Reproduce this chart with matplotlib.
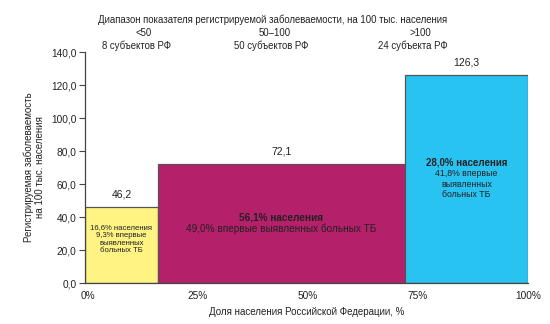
import matplotlib
matplotlib.use("Agg")
import matplotlib.pyplot as plt
import matplotlib.transforms as mtransforms

plt.rcParams['font.family'] = ['Liberation Sans', 'DejaVu Sans']

shares = [16.6, 56.1, 28.0]
values = [46.2, 72.1, 126.3]
value_labels = ["46,2", "72,1", "126,3"]
colors = ["#FFF383", "#B5206B", "#29C3F2"]
ranges = ["<50", "50\u2013100", ">100"]
subjects = ["8 субъектов РФ", "50 субъектов РФ", "24 субъекта РФ"]
yticks = [0, 20, 40, 60, 80, 100, 120, 140]
ytick_labels = ["0,0", "20,0", "40,0", "60,0", "80,0", "100,0", "120,0", "140,0"]
xticks = [0, 25, 50, 75, 100]
xtick_labels = ["0%", "25%", "50%", "75%", "100%"]

FS = 7.0
fig = plt.figure(figsize=(5.5, 3.24), dpi=100)
ax = fig.add_axes([0.1545, 0.1265, 0.8055, 0.713])

lefts = [0]
for s in shares[:-1]:
    lefts.append(lefts[-1] + s)
total = sum(shares)
ax.bar(lefts, values, width=shares, align='edge', color=colors,
       edgecolor='#555555', linewidth=0.9, zorder=2)
for l, s, v, lab in zip(lefts, shares, values, value_labels):
    ax.text(l + s / 2, v + 4.5, lab, ha='center', va='bottom', fontsize=7.5, color='#222222')

tc = '#222222'
ax.text(lefts[0] + shares[0] / 2, 26.5,
        "16,6% населения\n9,3% впервые\nвыявленных\nбольных ТБ",
        ha='center', va='center', fontsize=5.6, color=tc, linespacing=1.15)
ax.text(lefts[1] + shares[1] / 2, 40.0, "56,1% населения", ha='center', va='center',
        fontsize=7.2, fontweight='bold', color=tc)
ax.text(lefts[1] + shares[1] / 2, 33.0, "49,0% впервые выявленных больных ТБ",
        ha='center', va='center', fontsize=7.2, color=tc)
ax.text(lefts[2] + shares[2] / 2, 73.0, "28,0% населения", ha='center', va='center',
        fontsize=7.0, fontweight='bold', color=tc)
ax.text(lefts[2] + shares[2] / 2, 60.0, "41,8% впервые\nвыявленных\nбольных ТБ",
        ha='center', va='center', fontsize=6.3, color=tc, linespacing=1.15)

ax.set_xlim(0, total)
ax.set_ylim(0, 140)
ax.set_yticks(yticks)
ax.set_yticklabels(ytick_labels, fontsize=7.3, color=tc)
ax.set_xticks(xticks)
ax.set_xticklabels(xtick_labels, fontsize=7.3, color=tc)
ax.tick_params(axis='x', length=0, pad=6)
ax.tick_params(axis='y', length=4, width=0.8, color='#444444', pad=2)
offset = mtransforms.ScaledTranslation(3 / 100, 0, fig.dpi_scale_trans)
for lbl in ax.get_xticklabels():
    lbl.set_transform(lbl.get_transform() + offset)
for sp in ['top', 'right']:
    ax.spines[sp].set_visible(False)
for sp in ['left', 'bottom']:
    ax.spines[sp].set_color('#444444')
    ax.spines[sp].set_linewidth(0.9)

ax.set_xlabel("Доля населения Российской Федерации, %", fontsize=FS, color=tc, labelpad=4)
fig.text(0.062, 0.485, "Регистрируемая заболеваемость\nна 100 тыс. населения",
         rotation=90, ha='center', va='center', fontsize=FS, color=tc, linespacing=1.1)

fig.text(273 / 550, 1 - 20 / 324, "Диапазон показателя регистрируемой заболеваемости, на 100 тыс. населения",
         ha='center', va='center', fontsize=6.9, color=tc)
rx = [144, 275, 420]
sx = [137, 271, 413]
for x, r in zip(rx, ranges):
    fig.text(x / 550, 1 - 33.5 / 324, r, ha='center', va='center', fontsize=6.9, color=tc)
for x, s in zip(sx, subjects):
    fig.text(x / 550, 1 - 46 / 324, s, ha='center', va='center', fontsize=6.9, color=tc)

fig.savefig("out.png", dpi=100)
